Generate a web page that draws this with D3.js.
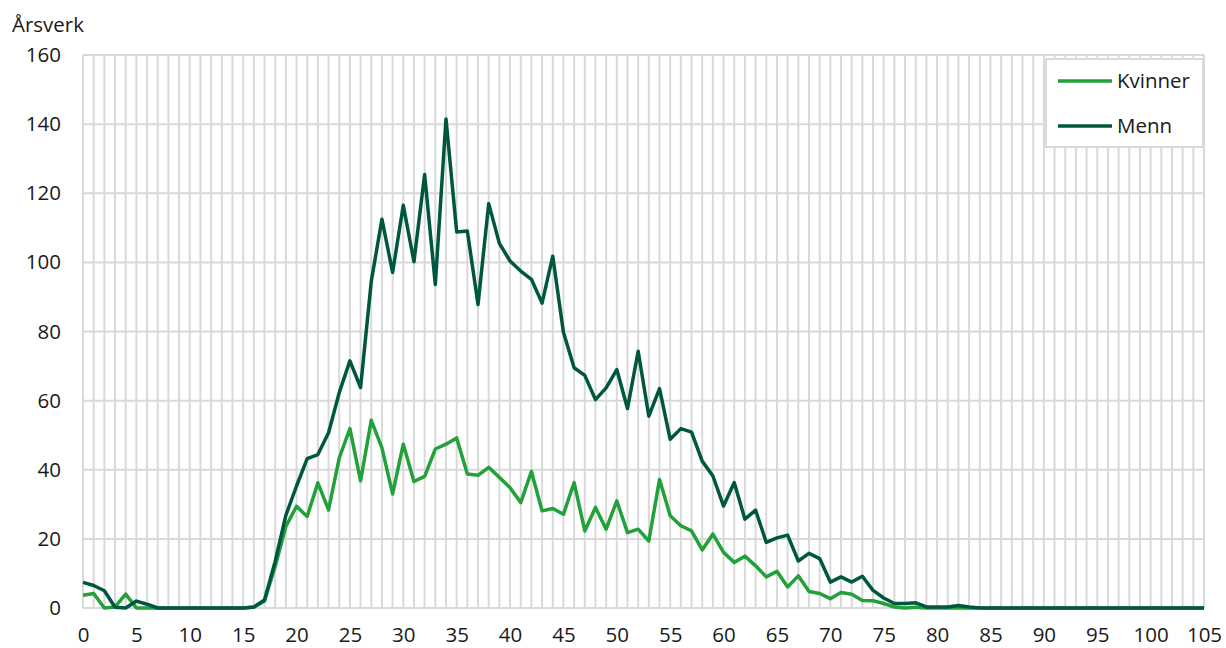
<!DOCTYPE html>
<html>
<head>
<meta charset="utf-8">
<title>Årsverk etter alder</title>
<script src="https://d3js.org/d3.v7.min.js"></script>
<style>
  body { margin: 0; background: #fff; }
  svg text { font-family: 'Open Sans', sans-serif; font-size: 20.5px; fill: #1a1a1a; }
</style>
</head>
<body>
<div id="chart"></div>
<script>
// alder 0..105
const ages = d3.range(0, 106);
const yTicks = [0, 20, 40, 60, 80, 100, 120, 140, 160];
const xTicks = d3.range(0, 106, 5);

const kvinner = [
  3.7, 4.2, 0, 0.3, 4, 0, 0, 0, 0, 0,
  0, 0, 0, 0, 0, 0, 0.2, 2, 12, 23.6,
  29.4, 26.5, 36.2, 28.4, 43.4, 51.9, 36.8, 54.3, 46.3, 33,
  47.4, 36.6, 38.1, 46, 47.4, 49.2, 38.8, 38.4, 40.7, 37.8,
  34.8, 30.5, 39.5, 28.1, 28.8, 27.1, 36.3, 22.3, 29.1, 22.8,
  31, 21.8, 22.8, 19.4, 37.2, 26.7, 23.8, 22.3, 16.8, 21.4,
  16.1, 13.2, 15, 12.2, 9, 10.6, 6.1, 9.3, 4.8, 4.2,
  2.7, 4.5, 4, 2.2, 2.1, 1.3, 0.3, 0, 0.2, 0,
  0, 0, 0, 0, 0, 0, 0, 0, 0, 0,
  0, 0, 0, 0, 0, 0, 0, 0, 0, 0,
  0, 0, 0, 0, 0, 0
];
const menn = [
  7.4, 6.5, 5, 0.2, 0, 2, 1.1, 0, 0, 0,
  0, 0, 0, 0, 0, 0, 0.3, 2.3, 13.5, 26.8,
  35.3, 43.2, 44.4, 50.7, 62.3, 71.5, 63.8, 94.5, 112.5, 97.1,
  116.5, 100.2, 125.4, 93.6, 141.5, 108.8, 109.1, 87.8, 117, 105.5,
  100.4, 97.5, 95.1, 88.2, 101.8, 79.8, 69.5, 67.3, 60.3, 63.7,
  69, 57.7, 74.3, 55.5, 63.5, 48.8, 51.9, 50.9, 42.5, 38.2,
  29.5, 36.3, 25.7, 28.3, 19, 20.3, 21.1, 13.6, 15.8, 14.3,
  7.5, 9, 7.5, 9.2, 5.1, 2.9, 1.3, 1.3, 1.5, 0.3,
  0.3, 0.3, 0.7, 0.3, 0, 0, 0, 0, 0, 0,
  0, 0, 0, 0, 0, 0, 0, 0, 0, 0,
  0, 0, 0, 0, 0, 0
];
const series = [
  { name: "Kvinner", values: kvinner, color: "#22a13a" },
  { name: "Menn", values: menn, color: "#00573f" }
];

const W = 1226, H = 648;
const margin = { top: 55, right: 22, bottom: 40, left: 83 };
const svg = d3.select("#chart").append("svg")
  .attr("width", W).attr("height", H);

const x = d3.scaleLinear().domain([0, 105]).range([margin.left, W - margin.right]);
const y = d3.scaleLinear().domain([0, 160]).range([H - margin.bottom, margin.top]);

// rutenett
const grid = svg.append("g");
grid.selectAll(".vg").data(ages).join("line")
  .attr("x1", d => x(d)).attr("x2", d => x(d))
  .attr("y1", y(0)).attr("y2", y(160))
  .attr("stroke", "#d9d9d9").attr("stroke-width", 2);
grid.selectAll(".hg").data(yTicks).join("line")
  .attr("x1", x(0)).attr("x2", x(105))
  .attr("y1", d => y(d)).attr("y2", d => y(d))
  .attr("stroke", "#d9d9d9").attr("stroke-width", 2);

// akser
svg.append("g")
  .attr("transform", `translate(0,${y(0)})`)
  .call(d3.axisBottom(x).tickValues(xTicks).tickSize(0).tickPadding(19))
  .call(g => g.select(".domain").remove());
svg.append("g")
  .attr("transform", `translate(${x(0)},0)`)
  .call(d3.axisLeft(y).tickValues(yTicks).tickSize(0).tickPadding(22))
  .call(g => g.select(".domain").remove());

svg.append("text")
  .attr("x", 12).attr("y", 32)
  .text("Årsverk");

// linjer
const line = d3.line().x((d, i) => x(ages[i])).y(d => y(d));
svg.selectAll(".serie").data(series).join("path")
  .attr("d", d => line(d.values))
  .attr("fill", "none")
  .attr("stroke", d => d.color)
  .attr("stroke-width", 3.5)
  .attr("stroke-linejoin", "round");

// tegnforklaring
const lg = svg.append("g").attr("class", "legend")
  .attr("transform", "translate(1046,59)");
lg.append("rect").attr("width", 157).attr("height", 88)
  .attr("fill", "#fff").attr("stroke", "#d9d9d9").attr("stroke-width", 2);
const items = lg.selectAll(".item").data(series).join("g")
  .attr("transform", (d, i) => `translate(12,${22 + i * 45})`);
items.append("line").attr("x1", 0).attr("x2", 54)
  .attr("stroke", d => d.color).attr("stroke-width", 3.5);
items.append("text").attr("x", 59).attr("dy", "0.35em").text(d => d.name);
</script>
</body>
</html>
